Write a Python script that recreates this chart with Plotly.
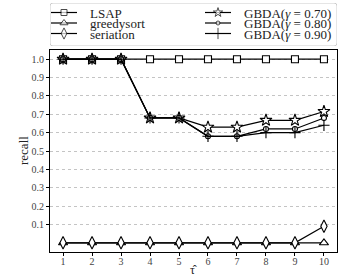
import plotly.graph_objects as go

x_vals = [1, 2, 3, 4, 5, 6, 7, 8, 9, 10]
lsap = [1.0, 1.0, 1.0, 1.0, 1.0, 1.0, 1.0, 1.0, 1.0, 1.0]
greedysort = [0.0, 0.0, 0.0, 0.0, 0.0, 0.0, 0.0, 0.0, 0.0, 0.0]
seriation = [0.0, 0.0, 0.0, 0.0, 0.0, 0.0, 0.0, 0.0, 0.0, 0.09]
gbda_070 = [1.0, 1.0, 1.0, 0.68, 0.68, 0.63, 0.63, 0.667, 0.667, 0.715]
gbda_080 = [1.0, 1.0, 1.0, 0.68, 0.68, 0.58, 0.58, 0.62, 0.62, 0.68]
gbda_090 = [1.0, 1.0, 1.0, 0.68, 0.68, 0.58, 0.58, 0.60, 0.60, 0.64]
series_names = ["LSAP", "greedysort", "seriation",
                "GBDA(<i>γ</i> = 0.70)", "GBDA(<i>γ</i> = 0.80)", "GBDA(<i>γ</i> = 0.90)"]
y_ticks = [0.1, 0.2, 0.3, 0.4, 0.5, 0.6, 0.7, 0.8, 0.9, 1.0]
y_ticklabels = ["0.1", "0.2", "0.3", "0.4", "0.5", "0.6", "0.7", "0.8", "0.9", "1.0"]

FONT = "Liberation Serif"
TXT = "#222222"

series_vals = [lsap, greedysort, seriation, gbda_070, gbda_080, gbda_090]
# style: (symbol, size in plot, size in legend)
styles = [
    ("square", 7, 6),
    ("triangle-up", 8, 7),
    ("diamond-tall", 9, 8),
    ("star", 9, 7),
    ("circle", 5, 4),
    ("cross-thin", 8, 8),
]

W, H = 349, 279
L, R, T, B = 50, 12, 3, 27
PLOT_TOP = 50          # page px of the plot-area top
LEG_BOTTOM = 46        # page px of legend box bottom
paper_h = H - T - B
main_top = (H - B - PLOT_TOP) / paper_h
leg_bot = (H - B - LEG_BOTTOM) / paper_h

fig = go.Figure()
for name, vals, (sym, sz, _) in zip(series_names, series_vals, styles):
    fill = "black" if sym == "cross-thin" else "white"
    fig.add_trace(go.Scatter(
        x=x_vals, y=vals, name=name, mode="lines+markers", showlegend=False,
        line=dict(color="black", width=1.2),
        marker=dict(symbol=sym, size=sz, color=fill,
                    line=dict(color="black", width=1.1)),
        xaxis="x", yaxis="y",
    ))

# ---- legend drawn on an auxiliary pixel-scaled axis ----
rows = [12.5, 23, 33.5]
cols = [(51, 77, 89), (205, 231, 243)]   # line start, line end, text start (page px)
annotations = []
for i, (name, (sym, _, lsz)) in enumerate(zip(series_names, styles)):
    c = cols[i // 3]
    ry = rows[i % 3]
    fill = "black" if sym == "cross-thin" else "white"
    fig.add_trace(go.Scatter(
        x=[c[0], (c[0] + c[1]) / 2, c[1]], y=[ry, ry, ry], mode="lines+markers",
        showlegend=False, hoverinfo="skip",
        line=dict(color="black", width=1.2),
        marker=dict(symbol=sym, size=[0, lsz, 0], color=fill,
                    line=dict(color="black", width=1.0)),
        xaxis="x2", yaxis="y2",
    ))
    annotations.append(dict(
        x=c[2], y=ry + 0.5, xref="x2", yref="y2", text=name, showarrow=False,
        xanchor="left", yanchor="middle", borderpad=0,
        font=dict(family=FONT, size=13, color=TXT),
    ))

# axis titles
annotations.append(dict(
    x=(23 - L) / (W - L - R), y=0.5 * main_top, xref="paper", yref="paper",
    text="recall", textangle=-90, showarrow=False, xanchor="center", yanchor="middle",
    font=dict(family=FONT, size=13, color=TXT),
))
annotations.append(dict(
    x=0.5, y=-(270 - (H - B)) / paper_h, xref="paper", yref="paper",
    text="τ̂", showarrow=False, xanchor="center", yanchor="middle", borderpad=0,
    font=dict(family=FONT, size=12, color=TXT),
))

r = 3
x0, x1, y0, y1 = 50, 337, 3, LEG_BOTTOM
box_path = (f"M {x0 + r},{y0} L {x1 - r},{y0} Q {x1},{y0} {x1},{y0 + r} "
            f"L {x1},{y1 - r} Q {x1},{y1} {x1 - r},{y1} L {x0 + r},{y1} "
            f"Q {x0},{y1} {x0},{y1 - r} L {x0},{y0 + r} Q {x0},{y0} {x0 + r},{y0} Z")

fig.update_layout(
    width=W, height=H,
    margin=dict(l=L, r=R, t=T, b=B, pad=0, autoexpand=False),
    paper_bgcolor="white", plot_bgcolor="white",
    font=dict(family=FONT, size=11, color=TXT),
    showlegend=False,
    annotations=annotations,
    shapes=[dict(type="path", path=box_path, xref="x2", yref="y2",
                 line=dict(color="#cccccc", width=1), fillcolor="rgba(0,0,0,0)", layer="below")],
    xaxis=dict(
        domain=[0, 1], range=[0.55, 10.45], tickvals=x_vals,
        ticktext=[str(v) for v in x_vals],
        showline=True, linecolor="black", linewidth=1, mirror=True,
        ticks="outside", ticklen=3, tickcolor="black", showgrid=False, zeroline=False,
        ticklabelstandoff=-3,
        tickfont=dict(family=FONT, size=10, color="#444"),
    ),
    yaxis=dict(
        domain=[0, main_top], range=[-0.05, 1.05], tickvals=y_ticks, ticktext=y_ticklabels,
        showline=True, linecolor="black", linewidth=1, mirror=True,
        ticks="outside", ticklen=3, tickcolor="black",
        showgrid=True, gridcolor="#c4c4c4", griddash="dot", gridwidth=0.8, zeroline=False,
        tickfont=dict(family=FONT, size=10, color="#444"),
    ),
    xaxis2=dict(domain=[0, 1], range=[L, W - R], anchor="y2", visible=False,
                fixedrange=True),
    yaxis2=dict(domain=[leg_bot, 1], range=[LEG_BOTTOM, T], anchor="x2", visible=False,
                fixedrange=True),
)

fig.write_html("out.html", config={"displayModeBar": False},
               post_script="document.body.style.margin='0px';")
